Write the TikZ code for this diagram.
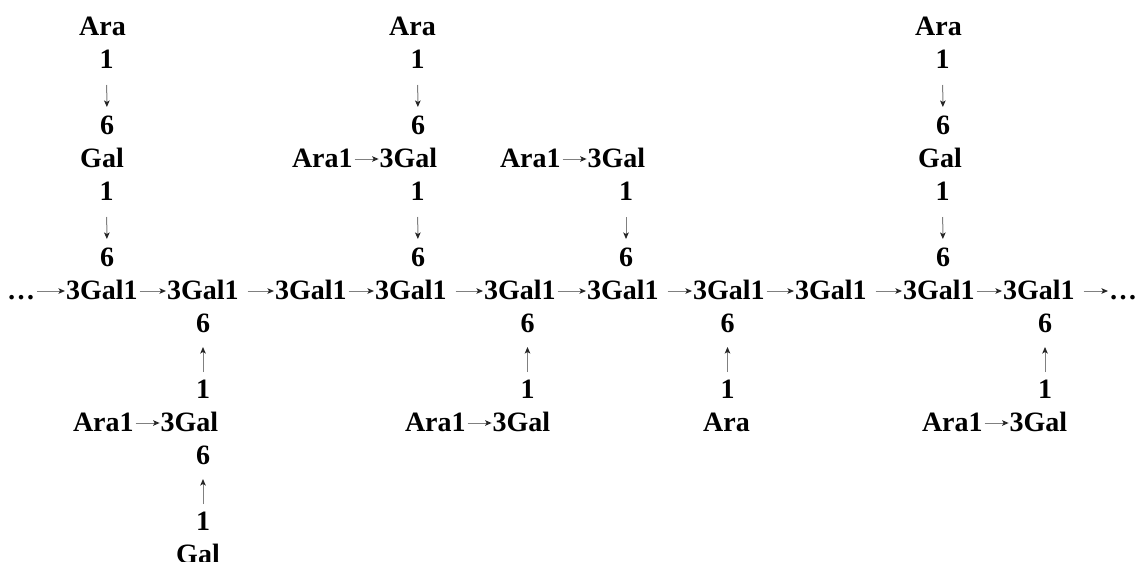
\documentclass[tikz,border=0pt]{standalone}
\usepackage{fontspec}
\setmainfont{Liberation Serif}
\usetikzlibrary{arrows.meta}
\tikzset{
  lbl/.style={inner sep=0pt, outer sep=0pt, text height=16pt, text depth=0pt, anchor=base,
    font=\fontsize{28}{33}\selectfont\bfseries},
  lblw/.style={lbl, anchor=base west},
  varr/.style={draw=black!50, line width=1pt, -{Stealth[length=6.5pt,width=5.5pt,inset=1.5pt,color=black!85]}},
  harr/.style={varr},
  nsp/.style={shorten <=2pt, shorten >=1pt},
  sp/.style={shorten <=9pt, shorten >=1pt},
  darr/.style={varr, shorten <=17pt, shorten >=11pt},
  uarr/.style={varr, shorten <=10pt, shorten >=15pt}
}
\begin{document}
\begin{tikzpicture}[x=1pt,y=-1pt]
\useasboundingbox (0,0) rectangle (1141,562);
\fill[white] (0,0) rectangle (1141,562);

% main chain
\node[lblw] (d0) at (7,299) {…};
\node[lblw] (u1) at (66,299) {3Gal1};
\node[lblw] (u2) at (167,299) {3Gal1};
\node[lblw] (u3) at (275,299) {3Gal1};
\node[lblw] (u4) at (375,299) {3Gal1};
\node[lblw] (u5) at (484,299) {3Gal1};
\node[lblw] (u6) at (587,299) {3Gal1};
\node[lblw] (u7) at (693,299) {3Gal1};
\node[lblw] (u8) at (795,299) {3Gal1};
\node[lblw] (u9) at (903,299) {3Gal1};
\node[lblw] (u10) at (1003,299) {3Gal1};
\node[lblw] (d1) at (1109,299) {…};
\draw[harr,nsp] (d0.east) -- (u1.west);
\draw[harr,nsp] (u1.east) -- (u2.west);
\draw[harr,sp] (u2.east) -- (u3.west);
\draw[harr,nsp] (u3.east) -- (u4.west);
\draw[harr,sp] (u4.east) -- (u5.west);
\draw[harr,nsp] (u5.east) -- (u6.west);
\draw[harr,sp] (u6.east) -- (u7.west);
\draw[harr,nsp] (u7.east) -- (u8.west);
\draw[harr,sp] (u8.east) -- (u9.west);
\draw[harr,nsp] (u9.east) -- (u10.west);
\draw[harr,sp] (u10.east) -- (d1.west);

% top column A
\node[lbl] (aAra) at (102.5,35) {Ara};
\node[lbl] (aO1) at (106.5,68) {1};
\node[lbl] (aO6) at (107,134) {6};
\node[lbl] (aGal) at (102,167) {Gal};
\node[lbl] (aG1) at (106.5,200) {1};
\node[lbl] (aG6) at (107,266) {6};
\draw[darr] (aO1.south) -- (aO6.north);
\draw[darr] (aG1.south) -- (aG6.north);

% top column B
\node[lbl] (bAra) at (412.5,35) {Ara};
\node[lbl] (bO1) at (417.5,68) {1};
\node[lbl] (bO6) at (418,134) {6};
\node[lblw] (bAra1) at (292,167) {Ara1};
\node[lblw] (bGal) at ([xshift=27pt]bAra1.base east) {3Gal};
\draw[harr,nsp] (bAra1.east) -- (bGal.west);
\node[lbl] (bG1) at (417.5,200) {1};
\node[lbl] (bG6) at (418,266) {6};
\draw[darr] (bO1.south) -- (bO6.north);
\draw[darr] (bG1.south) -- (bG6.north);

% top column C
\node[lblw] (cAra1) at (500,167) {Ara1};
\node[lblw] (cGal) at ([xshift=27pt]cAra1.base east) {3Gal};
\draw[harr,nsp] (cAra1.east) -- (cGal.west);
\node[lbl] (cG1) at (626,200) {1};
\node[lbl] (cG6) at (626,266) {6};
\draw[darr] (cG1.south) -- (cG6.north);

% top column D
\node[lbl] (dAra) at (938.5,35) {Ara};
\node[lbl] (dO1) at (942.5,68) {1};
\node[lbl] (dO6) at (943,134) {6};
\node[lbl] (dGal) at (940,167) {Gal};
\node[lbl] (dG1) at (942.5,200) {1};
\node[lbl] (dG6) at (943,266) {6};
\draw[darr] (dO1.south) -- (dO6.north);
\draw[darr] (dG1.south) -- (dG6.north);

% bottom column 2
\node[lbl] (e6) at (203,332) {6};
\node[lbl] (e1) at (203,398) {1};
\node[lblw] (eAra1) at (73,431) {Ara1};
\node[lblw] (eGal) at ([xshift=27pt]eAra1.base east) {3Gal};
\draw[harr,nsp] (eAra1.east) -- (eGal.west);
\node[lbl] (f6) at (203,464) {6};
\node[lbl] (f1) at (203,530) {1};
\node[lbl] (fGal) at (198,563) {Gal};
\draw[uarr] (e1.north) -- (e6.south);
\draw[uarr] (f1.north) -- (f6.south);

% bottom column 5
\node[lbl] (g6) at (527.5,332) {6};
\node[lbl] (g1) at (527.5,398) {1};
\node[lblw] (gAra1) at (405,431) {Ara1};
\node[lblw] (gGal) at ([xshift=27pt]gAra1.base east) {3Gal};
\draw[harr,nsp] (gAra1.east) -- (gGal.west);
\draw[uarr] (g1.north) -- (g6.south);

% bottom column 7
\node[lbl] (h6) at (727.5,332) {6};
\node[lbl] (h1) at (727.5,398) {1};
\node[lbl] (hAra) at (726.5,431) {Ara};
\draw[uarr] (h1.north) -- (h6.south);

% bottom column 10
\node[lbl] (k6) at (1045,332) {6};
\node[lbl] (k1) at (1045,398) {1};
\node[lblw] (kAra1) at (922,431) {Ara1};
\node[lblw] (kGal) at ([xshift=27pt]kAra1.base east) {3Gal};
\draw[harr,nsp] (kAra1.east) -- (kGal.west);
\draw[uarr] (k1.north) -- (k6.south);
\end{tikzpicture}
\end{document}
